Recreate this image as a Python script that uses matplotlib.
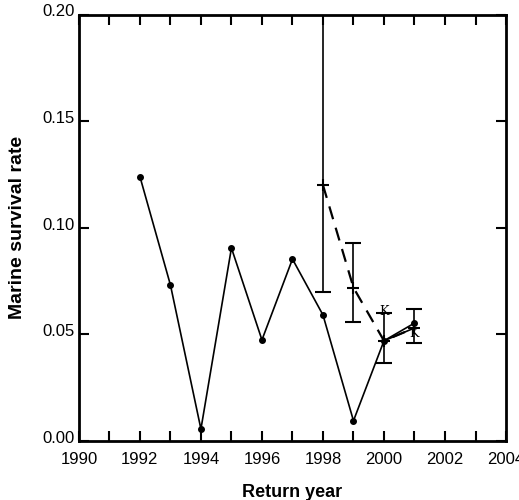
import matplotlib
matplotlib.use('Agg')
import matplotlib.pyplot as plt
import matplotlib.transforms as mtransforms
import numpy as np

plt.rcParams['font.family'] = ['Liberation Sans', 'DejaVu Sans']

# solid series: marine survival by return year
years = [1992, 1993, 1994, 1995, 1996, 1997, 1998, 1999, 2000, 2001]
survival = [0.124, 0.0732, 0.0056, 0.0905, 0.0474, 0.0853, 0.0591, 0.0095, 0.047, 0.0553]

# dashed series with error bars
est_years = [1998, 1999, 2000, 2001]
est_surv = [0.120, 0.0719, 0.047, 0.053]
est_low = [0.0699, 0.0558, 0.0367, 0.0459]
est_high = [0.215, 0.0928, 0.060, 0.0619]

# "K" labels
k_years = [2000, 2001]
k_vals = [0.0605, 0.0505]

fig = plt.figure(figsize=(5.19, 5.0), dpi=100)
ax = fig.add_axes([0.152, 0.118, 0.823, 0.853])

ax.plot(years, survival, color='black', lw=1.2, marker='o', ms=4)

yerr = [np.array(est_surv) - np.array(est_low), np.array(est_high) - np.array(est_surv)]
ax.errorbar(est_years, est_surv, yerr=yerr, color='black', lw=1.6, ls=(0, (6, 4)),
            marker='+', ms=9, mew=1.5, capsize=6, elinewidth=1.2, capthick=1.2)
ax.plot(est_years[2:], est_surv[2:], color='black', lw=1.2)

for x, y in zip(k_years, k_vals):
    ax.text(x, y, 'K', family='DejaVu Serif', fontsize=9, ha='center', va='center')

ax.set_xlim(1990, 2004)
ax.set_ylim(0, 0.20)
ax.set_xticks(range(1990, 2005, 2))
ax.set_xticks(range(1991, 2004, 2), minor=True)
ax.set_yticks([0.0, 0.05, 0.10, 0.15, 0.20])
ax.set_yticklabels(['0.00', '0.05', '0.10', '0.15', '0.20'])
ax.tick_params(which='both', direction='in', top=True, right=True, width=1.5,
               length=7, labelsize=12)
ax.tick_params(axis='x', pad=8)
ax.tick_params(axis='y', pad=3)
shift = mtransforms.ScaledTranslation(0, 4 / 100, fig.dpi_scale_trans)
for lbl in ax.get_yticklabels():
    lbl.set_transform(lbl.get_transform() + shift)
for s in ax.spines.values():
    s.set_linewidth(2)

ax.set_xlabel('Return year', fontsize=13, fontweight='bold', labelpad=12)
ax.set_ylabel('Marine survival rate', fontsize=14, fontweight='bold', labelpad=12)

fig.savefig('out.png', dpi=100)
